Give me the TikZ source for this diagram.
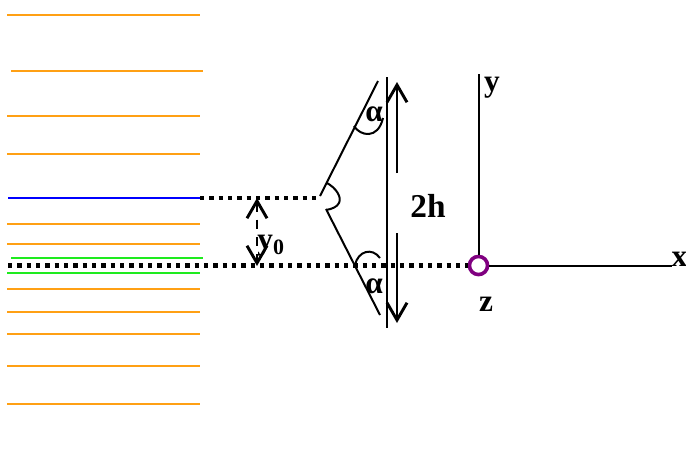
\documentclass[tikz,border=0pt]{standalone}
\usepackage{fontspec}
\setmainfont{Liberation Serif}
\usetikzlibrary{arrows.meta}
\definecolor{lineorange}{RGB}{255,160,20}
\definecolor{linegreen}{RGB}{30,235,30}
\definecolor{ringpurple}{RGB}{128,0,128}
\tikzset{
	>={Straight Barb[length=13pt,width=15pt,line width=2.2pt]},
	level/.style={line width=1.5pt},
	barb/.style={line width=1.9pt},
	thin line/.style={line width=1.5pt},
	dots/.style={line width=3.2pt,dash pattern=on 3.3pt off 3.7pt},
	label/.style={font=\bfseries\fontsize{23.5}{24}\selectfont,inner sep=0pt}
}
\begin{document}
	\begin{tikzpicture}[x=0.75pt,y=-0.75pt]
	\useasboundingbox (0,0) rectangle (686,450);
	% spectral lines
	\foreach \ypos/\xa/\xb in {15/7/200,71/11/203,116/7/200,154/7/200,224/7/200,244/7/200,289/7/200,312/7/200,334/7/200,366/7/200,404/7/200}{
		\coordinate (ol\ypos) at (\xa,\ypos);
		\coordinate (or\ypos) at (\xb,\ypos);
		\draw[level,lineorange] (ol\ypos) -- (or\ypos);
	}
	\coordinate (gl1) at (11,258);
	\coordinate (gr1) at (203,258);
	\coordinate (gl2) at (7,273);
	\coordinate (gr2) at (200,273);
	\draw[level,linegreen] (gl1) -- (gr1);
	\draw[level,linegreen] (gl2) -- (gr2);
	\coordinate (bl) at (8,198);
	\coordinate (br) at (200,198);
	\draw[line width=2pt,blue] (bl) -- (br);
	% prism and axes
	\coordinate (apex) at (320,196);
	\coordinate (apexlow) at (326,209);
	\coordinate (top) at (378,81);
	\coordinate (bottom) at (380,315);
	\coordinate (platetop) at (387,77);
	\coordinate (platebot) at (387,328);
	\node[circle,draw=ringpurple,line width=2.7pt,fill=white,minimum size=13.6pt,inner sep=0pt] (origin) at (478.5,265.5) {};
	\coordinate (yend) at (478.5,74);
	\coordinate (xend) at (672,265.5);
	\coordinate (dotl) at (8,265.5);
	\coordinate (dotend) at (316,198);
	\draw[dots] (br) -- (dotend);
	\draw[dots] (dotl) -- (origin.west);
	\draw[thin line] (apex) -- (top);
	\draw[thin line] (apexlow) -- (bottom);
	\draw[thin line] (platetop) -- (platebot);
	\draw[thin line] (origin.north) -- (yend);
	\draw[thin line] (origin.east) -- (xend);
	% angles
	\draw[thin line] (327,183) .. controls (336,188) and (342,197) .. (339,203) .. controls (337,207) and (332,209) .. (326,210);
	\draw[thin line] (354,126) .. controls (360,136) and (378,140) .. (383,118);
	\draw[thin line] (355,265) .. controls (358,251) and (372,247) .. (380,258);
	% arrows
	\coordinate (hup) at (397,173);
	\coordinate (huptip) at (397,82);
	\coordinate (hdown) at (397,233);
	\coordinate (hdowntip) at (397,323);
	\draw[barb,->] (hup) -- (huptip);
	\draw[barb,->] (hdown) -- (hdowntip);
	\coordinate (ytop) at (257,198);
	\coordinate (ybot) at (257,266);
	\draw[barb,<->,dash pattern=on 7pt off 6pt] (ytop) -- (ybot);
	% labels
	\node[label,font=\bfseries\fontsize{25}{25}\selectfont] (lab2h) at (428,206) {2h};
	\node[label] (laby) at (492,88) {y};
	\node[label] (labx) at (679.5,259) {x};
	\node[label] (labz) at (486,304) {z};
	\node[label] (laby0) at (271,246) {y\textsubscript{0}};
	\node[label] (labat) at (374,114) {α};
	\node[label] (labab) at (374,286) {α};
	\end{tikzpicture}
\end{document}
